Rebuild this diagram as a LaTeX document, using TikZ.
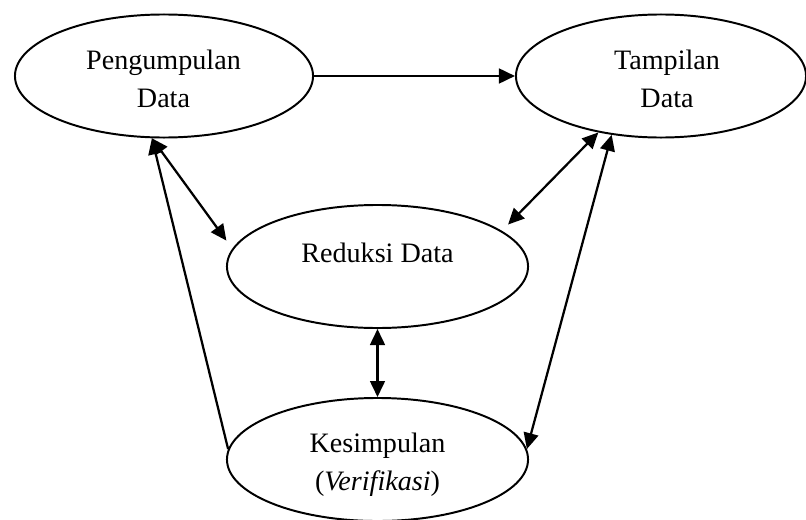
\documentclass[tikz,border=0pt]{standalone}
\usepackage{fontspec}
\setmainfont{Liberation Serif}
\usetikzlibrary{shapes.geometric,arrows.meta}

\tikzset{
  tahap/.style={draw, ellipse, line width=1.4pt, inner sep=0pt, minimum height=3.075cm},
  teks/.style={font=\fontsize{20}{27}\selectfont, align=center, inner sep=0pt},
  panah/.style={line width=1.6pt, -{Triangle[length=4mm,width=3.7mm]}},
  panahdua/.style={line width=1.6pt, {Triangle[length=4mm,width=3.7mm]}-{Triangle[length=4mm,width=3.7mm]}}
}

\begin{document}
\begin{tikzpicture}[x=0.025cm, y=-0.025cm]

  \useasboundingbox (0,0) rectangle (806,519);

  %% Draw the four stages
  \node[tahap, minimum width=7.45cm]  (pd) at (164,76) {};
  \node[tahap, minimum width=7.25cm]  (td) at (661,76) {};
  \node[tahap, minimum width=7.525cm] (rd) at (377.5,266.5) {};
  \node[tahap, minimum width=7.525cm] (kd) at (377.5,459.5) {};

  %% Add text to the picture
  \node[teks] (pdText) at (163.5,79) {Pengumpulan\\Data};
  \node[teks] (tdText) at (667,79) {Tampilan\\Data};
  \node[teks, anchor=base] (rdText) at (377.5,262) {Reduksi Data};
  \node[teks] (kdText) at (377.5,465) {Kesimpulan\\(\textit{Verifikasi})};

  %% Draw arrows between the stages
  \draw[panah] (pd) -- (td);
  \draw[panahdua, shorten >=0.25cm] (pd.-101) -- (rd.173);
  \draw[panah] (kd.176) -- (pd.-101);
  \draw[panahdua, shorten >=0.22cm] (td.-138) -- (rd.16);
  \draw[panahdua] (td.-130) -- (kd.4);
  \draw[panahdua] (rd.south) -- (kd.north);

\end{tikzpicture}
\end{document}
